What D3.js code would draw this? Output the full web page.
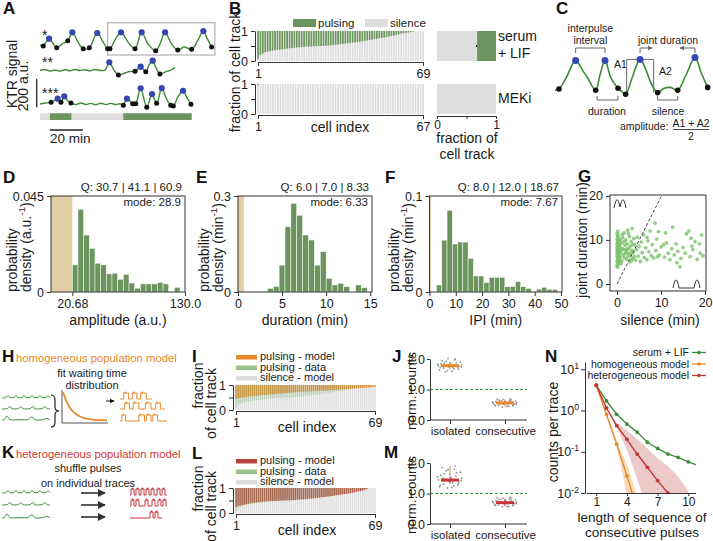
<!DOCTYPE html>
<html>
<head>
<meta charset="utf-8">
<script src="https://cdn.jsdelivr.net/npm/d3@7"></script>
<style>
  body { margin: 0; background: #fff; }
  svg { font-family: "Liberation Sans", Arial, Helvetica, sans-serif; }
</style>
</head>
<body>
<svg id="fig" width="713" height="541"></svg>
<script>
// ---------------- data ----------------
// A: KTR traces, [time (min), signal (a.u.), marker]  p = peak, t = trough
const traceA1 = [[0,35],[2,28,"t"],[5.5,80,"p"],[10.1,16,"t"],[13.3,42],[16.8,66,"t"],[19.6,125,"p"],[23,57],[26.2,9,"t"],[29.9,16,"t"],[34.7,120,"p"],[38.2,57],[41,9,"t"],[42.4,9,"t"],[45.5,71],[49.1,125,"p"],[53.3,57],[57.6,9,"t"],[61.6,125,"p"],[65.5,42],[70.1,-5,"t"],[72.7,42],[75.8,125,"p"],[79.4,49],[83.5,0,"t"],[87.3,21],[91.9,5,"t"],[95.8,71],[99,134,"p"],[101.2,85],[104,21,"t"]];
const traceA2 = [[0,39],[3,46],[6.1,35],[9.1,42],[12.1,35],[15.2,44],[18.2,37],[21.2,46],[24.2,39],[27.3,44],[30.3,37],[33.3,46],[36.4,39],[39.4,42],[42,97,"p"],[44.8,42],[47.5,7,"t"],[51.5,21],[54.5,32],[57.6,33,"t"],[61,66,"p"],[64.1,30,"t"],[66.1,78],[68.3,108,"p"],[70.3,57],[72.7,14,"t"],[75.8,28],[78.8,39],[81.8,59]];
const traceA3 = [[0,28],[3,35],[6.7,40,"t"],[10.7,66,"p"],[12.7,40,"t"],[14.7,83,"p"],[16.4,57],[18.8,35,"t"],[21.8,25],[24.8,35],[27.9,25],[30.9,33],[33.9,23],[37,34],[40,24],[43,33],[46.1,24],[48.5,30],[50.5,19,"t"],[52.7,66,"p"],[56.2,30,"t"],[58,30,"t"],[61,139,"p"],[64.7,5,"t"],[67.9,99,"p"],[70.7,33,"t"],[73.8,141,"p"],[76.4,71],[79.2,19,"t"],[80.8,14,"t"],[83.6,78],[86.7,122,"p"],[89.1,71],[91.5,26,"t"]];
const boxA = [41, 106];                    // boxed region of trace 1 (min)
const barA = [0, 91.9];                    // extent of state bar (min)
const pulseA3 = [[6, 19], [50.5, 91.9]];   // pulsing segments of trace 3 (min)

// B: silence fraction per cell (sorted)
const silSerum = [0.08,0.2,0.25,0.29,0.31,0.33,0.34,0.36,0.37,0.38,0.39,0.40,0.41,0.42,0.43,0.44,0.45,0.46,0.47,0.47,0.48,0.48,0.48,0.49,0.49,0.50,0.50,0.50,0.51,0.51,0.52,0.53,0.54,0.55,0.56,0.57,0.58,0.59,0.60,0.61,0.62,0.63,0.64,0.66,0.67,0.68,0.70,0.71,0.73,0.74,0.76,0.77,0.78,0.80,0.81,0.83,0.85,0.87,0.89,0.91,0.92,0.94,0.95,0.97,0.98,1,1,1,1];
const silMEKi = [0.97,1,1,1,1,1,1,1,1,1,1,1,1,1,1,1,1,1,1,1,1,1,1,1,1,1,1,1,1,1,1,1,1,1,1,1,1,1,1,1,1,1,1,1,1,1,1,1,1,1,1,1,1,1,1,1,1,1,1,1,1,1,1,1,1,1,1];
const meanSilSerum = 0.68, errSilSerum = 0.02, meanSilMEKi = 1;

// C: schematic trace, [time, signal, marker]
const traceC = [[0,12],[2.6,15,"t"],[7.2,42],[13.5,86,"p"],[18.3,60],[21,45],[26.6,12,"t"],[29.4,50],[32.7,86,"p"],[36.6,42],[41.2,17,"t"],[43.3,10],[46.2,2,"t"],[50.3,42],[55.6,89,"p"],[59.5,62],[62.7,30],[67.1,6,"t"],[71,16],[75.5,19],[80.2,12,"t"],[85.6,50],[91.5,94,"p"],[95.4,57],[99.8,19,"t"]];

// D-F: histograms (bin start, bin width, densities)
const ampStart = 20.68, ampWidth = 5.5;
const ampDensity = [0.0127,0.0388,0.0267,0.0205,0.0135,0.0127,0.0085,0.0088,0.006,0.0083,0.0042,0.0018,0.0038,0.0038,0.0038,0.0045,0.0038,0,0.0022];
const durStart = 3.33, durWidth = 0.667;
const durDensity = [0.0115,0.0177,0.084,0.204,0.277,0.24,0.178,0.1625,0.084,0.126,0.043,0.022,0.027,0.0167,0,0.022,0.0135];
const ipiStart = 2.67, ipiWidth = 2.0;
const ipiDensity = [0.0073,0.054,0.085,0.05,0.052,0.052,0.035,0.0167,0.0167,0.0097,0.0153,0.0153,0.0153,0.0056,0.0056,0.0108,0.0056,0.0038,0,0.003,0.0049,0.0028,0.0028];

// G: [silence (min), joint duration (min)]
const gPoints = [[0,4.2],[0.1,4.8],[0,5.3],[0.2,5.6],[0.1,6.0],[0,6.4],[0.3,6.7],[0.1,7.0],[0,7.3],[0.2,7.6],[0.1,7.9],[0,8.2],[0.3,8.5],[0.1,8.8],[0,9.1],[0.2,9.4],[0.1,9.8],[0,10.2],[0.3,10.6],[0.1,11.0],[0,11.5],[0.2,12.0],[0.4,5.0],[0.4,6.2],[0.3,7.3],[0.4,8.0],[0.5,9.0],[0.4,9.9],[0.5,6.8],[0.6,7.6],[0.3,4.4],[0.2,10.9],[0.6,5.5],[0.7,8.4],[0.1,3.8],
  [0.8,6.1],[0.9,7.2],[1.0,9.3],[1.1,5.2],[1.2,8.0],[1.3,10.5],[1.4,6.6],[1.5,7.8],[1.6,11.6],[1.7,5.9],[1.8,8.8],[1.9,6.9],[2.0,10.0],[2.1,7.4],[2.2,5.6],[2.3,9.1],[2.4,12.2],[2.5,6.3],[2.6,8.1],[2.7,7.0],[2.8,10.8],[2.9,5.0],[3.0,8.6],[3.1,6.7],[3.2,9.6],[3.3,7.6],[3.4,12.6],[3.5,5.8],[3.6,8.9],[3.7,7.1],[3.8,10.3],[3.9,6.2],[4.0,9.0],[1.2,11.2],[0.9,4.6],[2.6,11.4],[3.3,5.3],[1.6,9.6],[2.2,7.9],[0.8,10.1],
  [4.2,5.4],[4.4,7.8],[4.6,10.6],[4.8,6.3],[5.0,8.5],[5.3,5.1],[5.5,9.5],[5.7,7.1],[6.0,11.2],[6.2,6.0],[6.5,8.2],[6.8,5.5],[7.0,9.8],[7.2,7.3],[7.5,12.0],[7.8,6.4],[8.0,8.9],[8.3,5.9],[8.6,13.8],[8.8,7.6],[9.0,10.2],[9.4,11.9],[9.6,6.6],[10.0,8.4],[10.5,8.9],[10.8,6.1],[11.2,9.3],[11.6,7.0],[12.0,5.5],[12.4,8.0],[12.65,12.9],[13.0,6.6],[13.4,9.1],[13.8,7.4],[14.3,3.9],[14.5,5.8],[15.0,8.3],[15.8,11.4],[16.3,12.0],[16.6,6.2],[16.8,10.4],[17.2,7.8],[17.7,9.6],[18.2,5.6],[18.7,9.1],[18.9,7.0],[19.2,11.1],[19.5,6.4],[15.5,7.0],[11.0,11.6],[6.8,10.6],[9.2,6.2],[13.6,4.8],[17.0,8.6]];
const gDiagonal = [[0, 0], [10.1, 20]];

// H / K schematics
const smallTraces = [
  [[0,0],[4,0.5],[6,2.5],[8,0.3],[12,0.6],[14,2.5],[16,0.3],[20,0.5],[22,2.5],[24,0.4],[28,0.5],[30,2.5],[32,0.4],[36,0.6],[38,2.5],[40,0.4],[44,0.5],[46,2.2],[48,0.3]],
  [[0,0],[5,0.4],[8,2.5],[10,0.3],[16,0.5],[19,2.2],[21,0.4],[28,0.5],[31,2.5],[33,0.3],[40,0.5],[43,2.5],[45,0.3],[48,0.2]],
  [[0,0],[2,0.3],[5,4],[8,0.5],[14,0.2],[20,0.3],[25,0.2],[30,3],[33,0.3],[40,0.2],[45,1.5],[48,0.2]]
];
const waitCurve = [[0,1],[0.05,0.78],[0.1,0.6],[0.15,0.47],[0.2,0.37],[0.3,0.22],[0.4,0.14],[0.5,0.09],[0.6,0.06],[0.7,0.04],[0.8,0.03],[1,0.02]];
const homTrains = [[[4,9],[13,18],[22,28]], [[5,10],[14,20],[27,33],[38,43]], [[2,6],[20,26],[28,33],[35,40]]];
const homTrainEnd = [34, 48, 50];
const hetTrains = [[[1,4],[6,9],[11,14],[16,19],[21,24],[27,30],[32,35]], [[1,4],[6,9],[15,18],[22,25],[28,31],[33,36]], [[20,23],[25,28]]];
const hetTrainEnd = [37, 37, 32];

// I / L: model silence fraction per cell
const silHom = [0.45,0.47,0.48,0.5,0.51,0.52,0.53,0.55,0.55,0.56,0.57,0.58,0.59,0.6,0.6,0.61,0.62,0.63,0.63,0.64,0.65,0.66,0.66,0.67,0.68,0.68,0.69,0.69,0.7,0.71,0.71,0.72,0.72,0.73,0.73,0.74,0.74,0.75,0.75,0.76,0.76,0.77,0.77,0.78,0.78,0.79,0.79,0.8,0.8,0.81,0.81,0.82,0.82,0.83,0.84,0.84,0.85,0.85,0.86,0.87,0.87,0.88,0.88,0.89,0.9,0.9,0.91,0.92,0.93];
const silHet = [0.24,0.27,0.29,0.31,0.33,0.35,0.37,0.38,0.4,0.41,0.42,0.43,0.44,0.45,0.46,0.47,0.47,0.48,0.48,0.49,0.49,0.49,0.5,0.5,0.5,0.51,0.51,0.51,0.52,0.52,0.53,0.53,0.54,0.55,0.55,0.56,0.57,0.58,0.59,0.6,0.61,0.62,0.63,0.64,0.65,0.66,0.67,0.68,0.69,0.71,0.72,0.73,0.74,0.76,0.77,0.78,0.8,0.81,0.83,0.85,0.87,0.88,0.9,0.93,0.96,1,1,1,1];

// J / M: normalised counts, [jitter, value]
const jIso = [[-0.9,1.78],[-0.7,1.85],[-0.5,1.70],[-0.3,1.92],[-0.1,1.75],[0.1,1.82],[0.3,1.68],[0.5,1.88],[0.7,1.76],[0.9,1.80],[-0.8,1.64],[-0.6,1.95],[-0.4,1.79],[-0.2,1.62],[0,1.86],[0.2,1.73],[0.4,2.0],[0.6,1.71],[0.8,1.9],[-0.95,1.83],[-0.35,1.58],[0.35,1.97],[0.65,1.66],[-0.55,1.77],[0.15,1.60],[-0.15,2.02],[0.85,1.74],[-0.75,1.72],[0.45,1.81],[-0.45,1.87]];
const jCon = [[-0.9,0.55],[-0.7,0.6],[-0.5,0.48],[-0.3,0.63],[-0.1,0.52],[0.1,0.58],[0.3,0.45],[0.5,0.66],[0.7,0.53],[0.9,0.57],[-0.8,0.5],[-0.6,0.68],[-0.4,0.56],[-0.2,0.43],[0,0.61],[0.2,0.51],[0.4,0.7],[0.6,0.47],[0.8,0.62],[-0.95,0.59],[-0.35,0.54],[0.35,0.64],[0.65,0.49],[-0.55,0.57],[0.15,0.44],[-0.15,0.67],[0.85,0.52],[-0.75,0.46],[0.45,0.6],[-0.45,0.65]];
const mIso = [[-0.9,1.45],[-0.7,1.6],[-0.5,1.3],[-0.3,1.75],[-0.1,1.4],[0.1,1.52],[0.3,1.25],[0.5,1.68],[0.7,1.38],[0.9,1.5],[-0.8,1.22],[-0.6,1.85],[-0.4,1.48],[-0.2,1.18],[0,1.62],[0.2,1.35],[0.4,1.9],[0.6,1.28],[0.8,1.7],[-0.95,1.55],[-0.35,1.42],[0.35,1.8],[0.65,1.33],[-0.55,1.5],[0.15,1.2],[-0.15,1.78],[0.85,1.43],[-0.75,1.27],[0.45,1.57],[-0.45,1.65]];
const mCon = [[-0.9,0.7],[-0.7,0.76],[-0.5,0.62],[-0.3,0.8],[-0.1,0.67],[0.1,0.73],[0.3,0.58],[0.5,0.84],[0.7,0.68],[0.9,0.72],[-0.8,0.64],[-0.6,0.86],[-0.4,0.71],[-0.2,0.56],[0,0.78],[0.2,0.66],[0.4,0.88],[0.6,0.6],[0.8,0.79],[-0.95,0.74],[-0.35,0.69],[0.35,0.82],[0.65,0.63],[-0.55,0.75],[0.15,0.57],[-0.15,0.85],[0.85,0.67],[-0.75,0.61],[0.45,0.77],[-0.45,0.81]];
const jMeans = [1.78, 0.56], mMeans = [1.44, 0.70];
const mHomRange = [1.62, 1.9];

// N: counts per trace vs length of consecutive pulses
const nSerum = [[1,4.1],[2,1.71],[3,0.81],[4,0.47],[5,0.30],[6,0.17],[7,0.12],[8,0.088],[9,0.073],[10,0.057],[11,0.046]];
const nHom = [[1,4.1],[2,0.80],[3,0.153],[4,0.026],[5,0.004]];
const nHet = [[1,4.1],[2,1.15],[3,0.43],[4,0.2],[5,0.088],[6,0.042],[7,0.02],[8,0.01],[9,0.005]];
const nHomBand = [[1,4.1,4.1],[2,0.72,0.88],[3,0.13,0.18],[4,0.009,0.05],[5,0.001,0.0085]];
const nHetBand = [[1,4.1,4.1],[2,1.1,1.2],[3,0.38,0.5],[4,0.11,0.33],[5,0.022,0.2],[6,0.004,0.12],[7,0.001,0.07],[8,0.001,0.045],[9,0.001,0.025],[10,0.001,0.011]];

// ---------------- colours ----------------
const GREEN = "#6b945f", GREY = "#dedede", TAN = "#e2cfa3", LINEG = "#3d8b37";
const BLUE = "#3447b2", ORANGE = "#e8892b", RED = "#c8363a", INK = "#1a1a1a";

const svg = d3.select("#fig");
const defs = svg.append("defs");
defs.append("marker").attr("id", "arr").attr("viewBox", "0 0 10 10").attr("refX", 9).attr("refY", 5)
  .attr("markerWidth", 5).attr("markerHeight", 5).attr("orient", "auto")
  .append("path").attr("d", "M0,0 L10,5 L0,10 z").attr("fill", "context-stroke");

function T(g, x, y, s, size, o = {}) {
  const t = g.append("text").attr("x", x).attr("y", y).attr("font-size", size)
    .attr("fill", o.fill || INK).attr("text-anchor", o.anchor || "start");
  if (o.weight) t.attr("font-weight", o.weight);
  if (o.rot) t.attr("transform", `rotate(-90,${x},${y})`);
  if (Array.isArray(s)) {
    s.forEach(([str, sup]) => {
      const ts = t.append("tspan").text(str);
      if (sup) ts.attr("font-size", size * 0.7).attr("dy", -size * 0.4);
      else if (t.selectAll("tspan").size() > 1) ts.attr("dy", size * 0.4);
    });
  } else t.text(s);
  return t;
}
function ax(g, axisFn, x, y, size = 12.5) {
  const a = g.append("g").attr("transform", `translate(${x},${y})`).call(axisFn);
  a.attr("font-size", size).attr("font-family", null);
  a.selectAll("path,line").attr("stroke", "#333");
  a.selectAll("text").attr("fill", INK);
  return a;
}
function letter(x, y, s) { T(svg, x, y, s, 17, { weight: "bold", fill: "#111" }); }

// ---------------- A ----------------
const gA = svg.append("g");
const xA = d3.scaleLinear().domain([0, 100]).range([40, 205]);
const yA = d3.scaleLinear().domain([0, 200]).range([0, -28.3]);
const lineA = d3.line().x(d => xA(d[0])).y(d => yA(d[1])).curve(d3.curveCatmullRom.alpha(0.5));
gA.append("rect").attr("x", xA(boxA[0])).attr("width", xA(boxA[1]) - xA(boxA[0]))
  .attr("y", 22.7).attr("height", 32.3).attr("fill", "none").attr("stroke", "#b8b8b8").attr("stroke-width", 1.3);
[[traceA1, 50], [traceA2, 76], [traceA3, 108]].forEach(([tr, base]) => {
  const g = gA.append("g").attr("transform", `translate(0,${base})`);
  g.append("path").attr("d", lineA(tr)).attr("fill", "none").attr("stroke", LINEG).attr("stroke-width", 1.4);
  g.selectAll("circle").data(tr.filter(d => d[2])).join("circle")
    .attr("cx", d => xA(d[0])).attr("cy", d => yA(d[1])).attr("r", d => d[2] === "p" ? 3.1 : 2.5)
    .attr("fill", d => d[2] === "p" ? BLUE : "#111");
});
T(gA, 42, 40, "*", 14); T(gA, 42, 67, "**", 14); T(gA, 42, 98, "***", 14);
gA.append("rect").attr("x", xA(barA[0])).attr("width", xA(barA[1]) - xA(barA[0])).attr("y", 113.3).attr("height", 6.7).attr("fill", GREY);
gA.selectAll(".pa").data(pulseA3).join("rect").attr("x", d => xA(d[0])).attr("width", d => xA(d[1]) - xA(d[0]))
  .attr("y", 113.3).attr("height", 6.7).attr("fill", GREEN);
gA.append("line").attr("x1", 36.7).attr("x2", 36.7).attr("y1", 107.3).attr("y2", 107.3 + yA(200)).attr("stroke", "#222").attr("stroke-width", 1.3);
gA.append("line").attr("x1", xA(6)).attr("x2", xA(26)).attr("y1", 130).attr("y2", 130).attr("stroke", "#222").attr("stroke-width", 1.3);
T(gA, 50, 143, "20 min", 13.5);
T(gA, 17, 74, "KTR signal", 14, { rot: true, anchor: "middle" });
T(gA, 28, 86, "200 a.u.", 14, { rot: true, anchor: "middle" });
letter(3, 14, "A");

// ---------------- B ----------------
const gB = svg.append("g");
function cellBars(g, sil, y0, y1, n) {
  const x = d3.scaleLinear().domain([1, n]).range([258, 423]);
  const y = d3.scaleLinear().domain([0, 1]).range([y0, y1]);
  const bw = (x(2) - x(1)) * 0.72;
  g.selectAll(null).data(sil).join("rect").attr("x", (d, i) => x(i + 1) - bw / 2).attr("width", bw)
    .attr("y", d => y(d)).attr("height", d => y(0) - y(d)).attr("fill", GREY);
  g.selectAll(null).data(sil).join("rect").attr("x", (d, i) => x(i + 1) - bw / 2).attr("width", bw)
    .attr("y", y(1)).attr("height", d => y(d) - y(1)).attr("fill", GREEN);
  ax(g, d3.axisLeft(y).tickValues([0, 0.5, 1]).tickFormat(d => d === 0.5 ? "" : d).tickSize(4).tickSizeOuter(0), 255, 0);
  ax(g, d3.axisBottom(x).tickValues([1, n]).tickSize(4).tickSizeOuter(0), 0, y0 + 1);
}
cellBars(gB, silSerum, 61, 31, 69);
cellBars(gB, silMEKi, 114, 84, 67);
const xFrac = d3.scaleLinear().domain([0, 1]).range([437, 496]);
gB.append("rect").attr("x", xFrac(0)).attr("width", xFrac(1) - xFrac(0)).attr("y", 31).attr("height", 30).attr("fill", GREY);
gB.append("rect").attr("x", xFrac(meanSilSerum)).attr("width", xFrac(1) - xFrac(meanSilSerum)).attr("y", 31).attr("height", 30).attr("fill", GREEN);
gB.append("line").attr("x1", xFrac(meanSilSerum - errSilSerum)).attr("x2", xFrac(meanSilSerum)).attr("y1", 46).attr("y2", 46).attr("stroke", "#111").attr("stroke-width", 2);
gB.append("rect").attr("x", xFrac(0)).attr("width", xFrac(meanSilMEKi) - xFrac(0)).attr("y", 84).attr("height", 30).attr("fill", GREY);
ax(gB, d3.axisBottom(xFrac).tickValues([0, 0.5, 1]).tickFormat(d => d === 0.5 ? "" : d).tickSize(3).tickPadding(1).tickSizeOuter(0), 0, 116, 12);
T(gB, 498, 41, "serum", 14); T(gB, 498, 58, "+ LIF", 14); T(gB, 498, 103, "MEKi", 14);
T(gB, 467, 143, "fraction of", 14, { anchor: "middle" });
T(gB, 467, 159, "cell track", 14, { anchor: "middle" });
T(gB, 340, 132, "cell index", 14, { anchor: "middle" });
T(gB, 240, 72, "fraction of cell track", 14, { rot: true, anchor: "middle" });
gB.append("rect").attr("x", 293).attr("y", 19).attr("width", 23).attr("height", 8).attr("fill", GREEN);
T(gB, 318, 27, "pulsing", 11.5);
gB.append("rect").attr("x", 365).attr("y", 19).attr("width", 23).attr("height", 8).attr("fill", GREY);
T(gB, 390, 27, "silence", 11.5);
letter(229, 14, "B");

// ---------------- C ----------------
const gC = svg.append("g");
const xC = d3.scaleLinear().domain([0, 100]).range([555, 708]);
const yC = d3.scaleLinear().domain([0, 100]).range([95, 55]);
const br = (d) => gC.append("path").attr("d", d).attr("fill", "none").attr("stroke", "#666").attr("stroke-width", 1);
br(`M${xC(13.5)},53V48H${xC(32.7)}V53`);
br(`M${xC(55.6)},53V48H${xC(55.6) + 12}`).attr("marker-end", "url(#arr)");
br(`M${xC(91.5)},53V48H${xC(91.5) - 15}`).attr("marker-end", "url(#arr)");
br(`M${xC(46.2) + 1},${yC(2)}V${yC(89)}H${xC(55.6) - 3}`);
br(`M${xC(67.1) - 4},${yC(6)}V${yC(89)}H${xC(55.6) + 3}`);
br(`M${xC(27.5)},96V100H${xC(41.2)}V96`);
br(`M${xC(67.1)},96V100H${xC(80.2)}V96`);
gC.append("path").attr("d", d3.line().x(d => xC(d[0])).y(d => yC(d[1])).curve(d3.curveCatmullRom.alpha(0.5))(traceC))
  .attr("fill", "none").attr("stroke", LINEG).attr("stroke-width", 1.6);
gC.selectAll("circle").data(traceC.filter(d => d[2])).join("circle")
  .attr("cx", d => xC(d[0])).attr("cy", d => yC(d[1])).attr("r", d => d[2] === "p" ? 3.5 : 2.8)
  .attr("fill", d => d[2] === "p" ? BLUE : "#111");
T(gC, xC(23.1), 32, "interpulse", 10.5, { anchor: "middle" });
T(gC, xC(23.1), 44, "interval", 10.5, { anchor: "middle" });
T(gC, 668, 44, "joint duration", 10.5, { anchor: "middle" });
T(gC, 614, 68, "A1", 10.5); T(gC, 659, 75, "A2", 10.5);
T(gC, 607, 115, "duration", 10.5, { anchor: "middle" });
T(gC, 668, 115, "silence", 10.5, { anchor: "middle" });
T(gC, 620, 130, "amplitude:", 10.5);
T(gC, 691, 126.5, "A1 + A2", 10.5, { anchor: "middle" });
gC.append("line").attr("x1", 673).attr("x2", 709).attr("y1", 129.5).attr("y2", 129.5).attr("stroke", "#444");
T(gC, 691, 139.5, "2", 10.5, { anchor: "middle" });
letter(556, 14, "C");

// ---------------- D E F ----------------
function histPanel(c) {
  const g = svg.append("g");
  const x = d3.scaleLinear().domain(c.xdom).range([c.l, c.r]);
  const y = d3.scaleLinear().domain([0, c.ymax]).range([292, 196]);
  g.append("rect").attr("x", x(0)).attr("y", 196).attr("width", x(c.tan) - x(0)).attr("height", 96).attr("fill", TAN);
  g.selectAll(null).data(c.vals).join("rect")
    .attr("x", (d, i) => x(c.start + i * c.w)).attr("width", (d, i) => x(c.start + (i + 1) * c.w) - x(c.start + i * c.w))
    .attr("y", d => y(d)).attr("height", d => 292 - y(d)).attr("fill", GREEN).attr("stroke", "#fff").attr("stroke-width", 0.5);
  g.append("rect").attr("x", c.l).attr("y", 196).attr("width", c.r - c.l).attr("height", 96).attr("fill", "none").attr("stroke", "#333");
  ax(g, d3.axisLeft(y).tickValues([0, c.ymax]).tickFormat(d => d === 0 ? "0" : c.ylab).tickSize(4).tickSizeOuter(0), c.l, 0).select(".domain").remove();
  ax(g, d3.axisBottom(x).tickValues(c.xticks).tickFormat(c.xfmt || (d => d)).tickSize(4).tickSizeOuter(0), 0, 292).select(".domain").remove();
  T(g, c.r - 3, 191, c.q, 11.5, { anchor: "end" });
  T(g, c.r - 4, 206, c.mode, 11.5, { anchor: "end" });
  T(g, (c.l + c.r) / 2, 325, c.xlab, 14, { anchor: "middle" });
  T(g, c.py[0], 292, "probability", 14, { rot: true });
  T(g, c.py[1], 292, c.ydens, 14, { rot: true });
}
histPanel({ l: 51, r: 185, xdom: [0, 130], ymax: 0.045, ylab: "0.045", tan: ampStart, start: ampStart, w: ampWidth, vals: ampDensity,
  xticks: [20.68, 130], xfmt: d => d === 130 ? "130.0" : "20.68", q: "Q: 30.7 | 41.1 | 60.9", mode: "mode: 28.9",
  xlab: "amplitude (a.u.)", py: [17, 31], ydens: [["density (a.u."], ["-1", true], [")"]] });
histPanel({ l: 238, r: 372, xdom: [0, 15.2], ymax: 0.3, ylab: "0.3", tan: 0.667, start: durStart, w: durWidth, vals: durDensity,
  xticks: [0, 5, 10, 15], q: "Q: 6.0 | 7.0 | 8.33", mode: "mode: 6.33",
  xlab: "duration (min)", py: [209, 223], ydens: [["density (min"], ["-1", true], [")"]] });
histPanel({ l: 429.5, r: 562, xdom: [0, 50.4], ymax: 0.1, ylab: "0.1", tan: 0.5, start: ipiStart, w: ipiWidth, vals: ipiDensity,
  xticks: [0, 10, 20, 30, 40, 50], q: "Q: 8.0 | 12.0 | 18.67", mode: "mode: 7.67",
  xlab: "IPI (min)", py: [399, 413], ydens: [["density (min"], ["-1", true], [")"]] });
letter(3, 183, "D"); letter(196, 183, "E"); letter(385, 183, "F");

// ---------------- G ----------------
const gG = svg.append("g");
const xG = d3.scaleLinear().domain([-1.6, 20.2]).range([610, 706]);
const yG = d3.scaleLinear().domain([-1.6, 20.2]).range([291, 195]);
gG.selectAll("circle").data(gPoints).join("circle").attr("cx", d => xG(d[0])).attr("cy", d => yG(d[1]))
  .attr("r", 1.9).attr("fill", "#79c26a").attr("fill-opacity", 0.8);
gG.append("path").attr("d", d3.line().x(d => xG(d[0])).y(d => yG(d[1]))(gDiagonal))
  .attr("stroke", "#444").attr("stroke-dasharray", "3,2").attr("fill", "none");
gG.append("rect").attr("x", 610).attr("y", 195).attr("width", 96).attr("height", 96).attr("fill", "none").attr("stroke", "#333");
ax(gG, d3.axisLeft(yG).tickValues([0, 10, 20]).tickSize(4).tickSizeOuter(0), 610, 0).select(".domain").remove();
ax(gG, d3.axisBottom(xG).tickValues([0, 10, 20]).tickSize(4).tickSizeOuter(0), 0, 291).select(".domain").remove();
gG.append("path").attr("d", "M614,208 Q617,192 620,207 Q623,192 626,208").attr("fill", "none").attr("stroke", "#333");
gG.append("path").attr("d", "M673,288 Q676,272 679,288 H694 Q697,272 700,288").attr("fill", "none").attr("stroke", "#333");
T(gG, 660, 325, "silence (min)", 14, { anchor: "middle" });
T(gG, 587, 240, "joint duration (min)", 14, { rot: true, anchor: "middle" });
letter(578, 182, "G");

// ---------------- H / K ----------------
const gH = svg.append("g");
const xs = d3.scaleLinear().domain([0, 48]).range([2, 50]);
const ys = d3.scaleLinear().domain([0, 5]).range([0, -5]);
const lineS = d3.line().x(d => xs(d[0])).y(d => ys(d[1])).curve(d3.curveCatmullRom);
[[398, 409, 420], [493, 505, 518]].forEach(rows => rows.forEach((yy, i) => {
  gH.append("path").attr("transform", `translate(0,${yy})`).attr("d", lineS(smallTraces[i]))
    .attr("fill", "none").attr("stroke", LINEG).attr("stroke-width", 1);
}));
gH.append("path").attr("d", "M51,395 q4,0 4,5 v7 q0,4 4,4 q-4,0 -4,4 v7 q0,5 -4,5").attr("fill", "none").attr("stroke", "#222").attr("stroke-width", 1.2);
const xw = d3.scaleLinear().domain([0, 1]).range([63, 107]);
const yw = d3.scaleLinear().domain([0, 1]).range([421, 392]);
gH.append("path").attr("d", "M62,390V423H108").attr("fill", "none").attr("stroke", "#555");
gH.append("path").attr("d", d3.line().x(d => xw(d[0])).y(d => yw(d[1])).curve(d3.curveBasis)(waitCurve))
  .attr("fill", "none").attr("stroke", ORANGE).attr("stroke-width", 1.8);
gH.append("line").attr("x1", 106).attr("x2", 114).attr("y1", 401).attr("y2", 401).attr("stroke", "#111").attr("marker-end", "url(#arr)");
function trains(g, data, ends, x, rowsY, col) {
  data.forEach((pulses, i) => {
    let d = `M${x(0)},${rowsY[i]}`;
    pulses.forEach(([a, b]) => { d += `H${x(a)}V${rowsY[i] - 6}H${x(b)}V${rowsY[i]}`; });
    d += `H${x(ends[i])}`;
    g.append("path").attr("d", d).attr("fill", "none").attr("stroke", col).attr("stroke-width", 1);
    g.selectAll(null).data(pulses).join("circle").attr("cx", p => x(p[0]) + 1.5).attr("cy", rowsY[i] - 6.5).attr("r", 0.9).attr("fill", col);
  });
}
trains(gH, homTrains, homTrainEnd, d3.scaleLinear().domain([0, 50]).range([120, 167]), [399, 409, 421], ORANGE);
trains(gH, hetTrains, hetTrainEnd, d3.scaleLinear().domain([0, 37]).range([130, 167]), [495, 506, 518], RED);
[493, 505, 517].forEach(yy => gH.append("line").attr("x1", 81).attr("x2", 105).attr("y1", yy).attr("y2", yy)
  .attr("stroke", "#333").attr("stroke-width", 1.6).attr("marker-end", "url(#arr)"));
T(gH, 16, 362, "homogeneous population model", 11.3, { fill: ORANGE });
T(gH, 92, 377, "fit waiting time", 11, { anchor: "middle" });
T(gH, 92, 389, "distribution", 11, { anchor: "middle" });
T(gH, 16, 458, "heterogeneous population model", 11.3, { fill: "#d23a3a" });
T(gH, 88, 472, "shuffle pulses", 11, { anchor: "middle" });
T(gH, 88, 487, "on individual traces", 11, { anchor: "middle" });
letter(2, 362, "H"); letter(2, 458, "K");

// ---------------- I / L ----------------
function modelBars(g, silModel, col, y0, y1, leg) {
  const x = d3.scaleLinear().domain([1, 69]).range([236, 375]);
  const y = d3.scaleLinear().domain([0, 1]).range([y0, y1]);
  const bw = (x(2) - x(1)) * 0.72;
  g.selectAll(null).data(silModel).join("rect").attr("x", (d, i) => x(i + 1) - bw / 2).attr("width", bw)
    .attr("y", y(1)).attr("height", y(0) - y(1)).attr("fill", GREY);
  g.selectAll(null).data(silModel).join("rect").attr("x", (d, i) => x(i + 1) - bw / 2).attr("width", bw)
    .attr("y", y(1)).attr("height", d => y(d) - y(1)).attr("fill", col);
  g.selectAll(null).data(silSerum).join("rect").attr("x", (d, i) => x(i + 1) - bw / 2).attr("width", bw)
    .attr("y", y(1)).attr("height", d => y(d) - y(1)).attr("fill", "#7fae72").attr("fill-opacity", 0.35);
  ax(g, d3.axisLeft(y).tickValues([0, 0.5, 1]).tickFormat(d => d === 0.5 ? "" : d).tickSize(4).tickSizeOuter(0), 233, 0);
  ax(g, d3.axisBottom(x).tickValues([1, 69]).tickSize(4).tickSizeOuter(0), 0, y0 + 1);
  [[col, "pulsing - model"], ["#9dc090", "pulsing - data"], [GREY, "silence - model"]].forEach(([c, s], i) => {
    g.append("rect").attr("x", 236).attr("y", leg + i * 10.5 - 5).attr("width", 21).attr("height", 4.5).attr("fill", c);
    T(g, 260, leg + i * 10.5, s, 11);
  });
  T(g, 307, y0 + 22, "cell index", 14, { anchor: "middle" });
  T(g, 203, (y0 + y1) / 2 - 12, "fraction", 14, { rot: true, anchor: "middle" });
  T(g, 216, (y0 + y1) / 2 + 6, "of cell track", 14, { rot: true, anchor: "middle" });
}
modelBars(svg.append("g"), silHom, ORANGE, 410, 385, 360);
modelBars(svg.append("g"), silHet, "#b9423c", 513, 488, 464);
letter(192, 362, "I"); letter(192, 459, "L");

// ---------------- J / M ----------------
function normPanel(g, y0, iso, con, means, col, homRange) {
  const x = d3.scalePoint().domain(["isolated", "consecutive"]).range([450, 505]);
  const y = d3.scaleLinear().domain([0, 2]).range([y0, y0 - 61]);
  g.append("line").attr("x1", 430).attr("x2", 527).attr("y1", y(1)).attr("y2", y(1))
    .attr("stroke", "#3f9a4a").attr("stroke-dasharray", "3,2");
  [[iso, "isolated", means[0]], [con, "consecutive", means[1]]].forEach(([pts, k, m]) => {
    g.selectAll(null).data(pts).join("circle").attr("cx", d => x(k) + d[0] * 13).attr("cy", d => y(d[1]))
      .attr("r", 0.9).attr("fill", "#777").attr("fill-opacity", 0.8);
    g.append("line").attr("x1", x(k)).attr("x2", x(k)).attr("y1", y(m + 0.12)).attr("y2", y(m - 0.12)).attr("stroke", col).attr("stroke-width", 1);
    g.append("rect").attr("x", x(k) - 9).attr("width", 18).attr("y", y(m) - 1.5).attr("height", 3).attr("fill", col);
  });
  if (homRange) g.append("line").attr("x1", x("isolated")).attr("x2", x("isolated")).attr("y1", y(homRange[0])).attr("y2", y(homRange[1])).attr("stroke", ORANGE);
  ax(g, d3.axisLeft(y).tickValues([0, 1, 2]).tickSize(3).tickPadding(2).tickSizeOuter(0), 430, 0);
  const b = ax(g, d3.axisBottom(x).tickSize(4).tickSizeOuter(0), 0, y0, 11.5);
  b.select(".domain").remove();
  g.append("line").attr("x1", 430).attr("x2", 527).attr("y1", y0).attr("y2", y0).attr("stroke", "#333");
  T(g, 415.5, y0 - 29, "norm. counts", 13.5, { rot: true, anchor: "middle" });
}
normPanel(svg.append("g"), 420, jIso, jCon, jMeans, ORANGE, null);
normPanel(svg.append("g"), 524, mIso, mCon, mMeans, RED, mHomRange);
letter(392, 362, "J"); letter(384, 458, "M");

// ---------------- N ----------------
const gN = svg.append("g");
const xN = d3.scaleLinear().domain([0, 10.7]).range([586, 695.5]);
const yN = d3.scaleLog().domain([0.01, 15]).range([493, 362]);
gN.append("clipPath").attr("id", "clipN").append("rect").attr("x", 586).attr("y", 362).attr("width", 110).attr("height", 131);
const area = d3.area().x(d => xN(d[0])).y0(d => yN(d[1])).y1(d => yN(d[2]));
const gc = gN.append("g").attr("clip-path", "url(#clipN)");
gc.append("path").attr("d", area(nHetBand)).attr("fill", "#d99596").attr("fill-opacity", 0.5);
gc.append("path").attr("d", area(nHomBand)).attr("fill", "#f2c08a").attr("fill-opacity", 0.6);
const lineN = d3.line().x(d => xN(d[0])).y(d => yN(d[1]));
[[nSerum, "#3e8e3a"], [nHom, ORANGE], [nHet, RED]].forEach(([s, c]) => {
  gc.append("path").attr("d", lineN(s)).attr("fill", "none").attr("stroke", c).attr("stroke-width", 1.4);
  gc.selectAll(null).data(s).join("circle").attr("cx", d => xN(d[0])).attr("cy", d => yN(d[1])).attr("r", 1.9).attr("fill", c);
});
ax(gN, d3.axisBottom(xN).tickValues([1, 4, 7, 10]).tickSize(3).tickPadding(1).tickSizeOuter(0), 0, 493, 12);
ax(gN, d3.axisLeft(yN).tickValues([0.01, 0.1, 1, 10]).tickFormat("").tickSize(4).tickSizeOuter(0), 585, 0);
[[10, "1"], [1, "0"], [0.1, "-1"], [0.01, "-2"]].forEach(([v, e]) => T(gN, 579, yN(v) + 4.5, [["10"], [e, true]], 12.5, { anchor: "end" }));
[["serum + LIF", "#3e8e3a", 356], ["homogeneous model", ORANGE, 367.5], ["heterogeneous model", RED, 379]].forEach(([s, c, yy]) => {
  T(gN, 689, yy, s, 10.5, { anchor: "end" });
  gN.append("line").attr("x1", 692).attr("x2", 706).attr("y1", yy - 3.5).attr("y2", yy - 3.5).attr("stroke", c).attr("stroke-width", 1.3);
  gN.append("circle").attr("cx", 699).attr("cy", yy - 3.5).attr("r", 1.8).attr("fill", c);
});
T(gN, 558, 432, "counts per trace", 14, { rot: true, anchor: "middle" });
T(gN, 642, 522, "length of sequence of", 13.5, { anchor: "middle" });
T(gN, 642, 537, "consecutive pulses", 13.5, { anchor: "middle" });
letter(545, 362, "N");
</script>
</body>
</html>
